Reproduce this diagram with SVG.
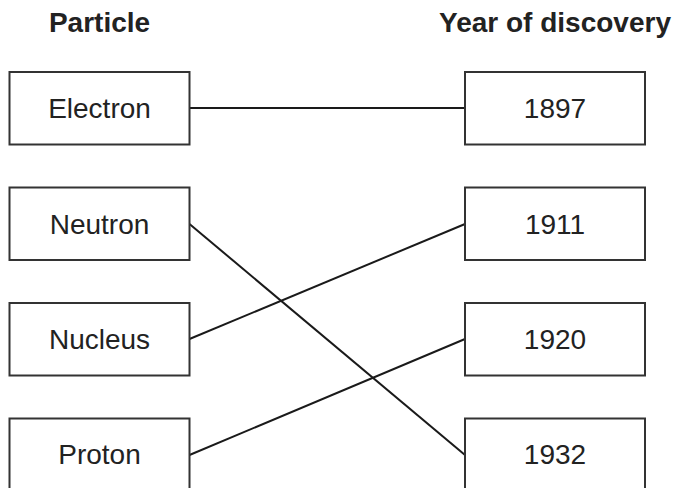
<svg xmlns="http://www.w3.org/2000/svg" width="678" height="488" viewBox="0 0 678 488">
<style>
.box{fill:#fff;stroke:#333;stroke-width:2}
.lbl{font-family:"Liberation Sans",Arial,sans-serif;font-size:28px;fill:#222;text-anchor:middle}
.hd{font-family:"Liberation Sans",Arial,sans-serif;font-size:28px;font-weight:bold;fill:#222;text-anchor:middle}
.con{stroke:#1a1a1a;stroke-width:2;fill:none}
</style>
<rect width="678" height="488" fill="#fff"/>
<text class="hd" x="99.5" y="32">Particle</text>
<text class="hd" x="555" y="32">Year of discovery</text>
<g id="connectors">
<line class="con" x1="189.5" y1="108" x2="465" y2="108"/>
<line class="con" x1="189.5" y1="224" x2="465" y2="455"/>
<line class="con" x1="189.5" y1="339" x2="465" y2="224"/>
<line class="con" x1="189.5" y1="455" x2="465" y2="339"/>
</g>
<g id="electron"><rect class="box" x="9.5" y="72" width="180" height="72.5"/><text class="lbl" x="99.5" y="118">Electron</text></g>
<g id="neutron"><rect class="box" x="9.5" y="187.5" width="180" height="72.5"/><text class="lbl" x="99.5" y="234">Neutron</text></g>
<g id="nucleus"><rect class="box" x="9.5" y="303" width="180" height="72.5"/><text class="lbl" x="99.5" y="349">Nucleus</text></g>
<g id="proton"><rect class="box" x="9.5" y="418.5" width="180" height="72.5"/><text class="lbl" x="99.5" y="464">Proton</text></g>
<g id="y1897"><rect class="box" x="465" y="72" width="180" height="72.5"/><text class="lbl" x="555" y="118">1897</text></g>
<g id="y1911"><rect class="box" x="465" y="187.5" width="180" height="72.5"/><text class="lbl" x="555" y="234">1911</text></g>
<g id="y1920"><rect class="box" x="465" y="303" width="180" height="72.5"/><text class="lbl" x="555" y="349">1920</text></g>
<g id="y1932"><rect class="box" x="465" y="418.5" width="180" height="72.5"/><text class="lbl" x="555" y="464">1932</text></g>
</svg>
